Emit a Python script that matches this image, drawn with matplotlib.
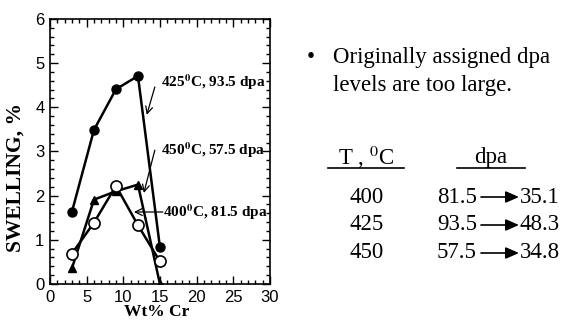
import matplotlib
matplotlib.use("Agg")
import matplotlib.pyplot as plt
from matplotlib.patches import FancyArrowPatch
from matplotlib.ticker import MultipleLocator

plt.rcParams['mathtext.fontset'] = 'stix'

# swelling vs chromium content
cr = [3, 6, 9, 12, 15]
sw_425 = [1.64, 3.49, 4.41, 4.71, 0.83]
sw_400 = [0.69, 1.39, 2.22, 1.33, 0.51]
sw_450 = [0.36, 1.91, 2.10, 2.25, 0.0]

# dpa corrections table
temps = ["400", "425", "450"]
dpa_old = ["81.5", "93.5", "57.5"]
dpa_new = ["35.1", "48.3", "34.8"]

serif = ['Liberation Serif', 'DejaVu Serif']
sans = ['Liberation Sans', 'DejaVu Sans']

fig = plt.figure(figsize=(5.67, 3.32), dpi=100)
ax = fig.add_axes([0.0882, 0.1446, 0.3878, 0.7982])

ax.plot(cr, sw_425, color='k', lw=1.8, marker='o', ms=6.5, mfc='k', mec='k', zorder=3)
ax.plot(cr, sw_450, color='k', lw=1.8, marker='^', ms=6, mfc='k', mec='k', zorder=3)
ax.plot(cr, sw_400, color='k', lw=1.8, marker='o', ms=8, mfc='white', mec='k', mew=1.2, zorder=4)

ax.set_xlim(0, 30)
ax.set_ylim(0, 6)
ax.xaxis.set_major_locator(MultipleLocator(5))
ax.xaxis.set_minor_locator(MultipleLocator(1))
ax.yaxis.set_major_locator(MultipleLocator(1))
ax.yaxis.set_minor_locator(MultipleLocator(0.2))
ax.tick_params(which='both', direction='in', top=True, right=True, width=1)
ax.tick_params(which='major', length=6, labelsize=12, pad=4)
ax.tick_params(which='minor', length=3)
for lab in ax.get_xticklabels() + ax.get_yticklabels():
    lab.set_family(sans)
for s in ax.spines.values():
    s.set_linewidth(1.2)

ax.set_xlabel("Wt% Cr", family=serif, fontweight='bold', fontsize=12.5)
ax.xaxis.set_label_coords(0.486, -0.075)
ax.set_ylabel("SWELLING, %", family=serif, fontweight='bold', fontsize=15.5)
ax.yaxis.set_label_coords(-0.112, 0.40)

# curve labels with pointer arrows
ann = dict(family=serif, fontweight='bold', fontsize=11, va='center', ha='left')
arrow = dict(arrowstyle='->,head_length=0.5,head_width=0.25', color='k', lw=0.9,
             shrinkA=0, shrinkB=0)
ax.text(15.1, 4.57, "425$^{\\mathbf{0}}$C, 93.5 dpa", **ann)
ax.annotate("", xy=(13.2, 3.83), xytext=(14.3, 4.46), arrowprops=arrow)
ax.text(15.1, 3.03, "450$^{\\mathbf{0}}$C, 57.5 dpa", **ann)
ax.annotate("", xy=(12.8, 2.06), xytext=(14.3, 3.03), arrowprops=arrow)
ax.text(15.4, 1.63, "400$^{\\mathbf{0}}$C, 81.5 dpa", **ann)
ax.annotate("", xy=(11.45, 1.63), xytext=(15.4, 1.63), arrowprops=arrow)

# notes on the right
W, H = 567.0, 332.0
def fx(px):
    return px / W
def fy(py):
    return 1 - py / H

fs = 16.5
fig.text(fx(311), fy(57), "\u2022", family=serif, fontsize=fs, ha='center', va='center')
fig.text(fx(333), fy(57), "Originally assigned dpa", family=serif, fontsize=fs, va='center')
fig.text(fx(333), fy(85), "levels are too large.", family=serif, fontsize=fs, va='center')

fig.text(fx(366), fy(157), "T , $^{0}$C", family=serif, fontsize=fs, ha='center', va='center')
fig.text(fx(491), fy(157), "dpa", family=serif, fontsize=fs, ha='center', va='center')
fig.add_artist(plt.Line2D([fx(328), fx(404)], [fy(168), fy(168)], color='k', lw=1.2))
fig.add_artist(plt.Line2D([fx(457), fx(525)], [fy(168), fy(168)], color='k', lw=1.2))

row_y = [197, 225, 253]
for t, d0, d1, y in zip(temps, dpa_old, dpa_new, row_y):
    fig.text(fx(367), fy(y), t, family=serif, fontsize=fs, ha='center', va='center')
    fig.text(fx(437), fy(y), d0, family=serif, fontsize=fs, ha='left', va='center')
    fig.text(fx(520), fy(y), d1, family=serif, fontsize=fs, ha='left', va='center')
    fig.add_artist(FancyArrowPatch(
        (fx(481), fy(y)), (fx(519), fy(y)), transform=fig.transFigure,
        arrowstyle='-|>,head_length=8,head_width=3.5', color='k', lw=1.2,
        shrinkA=0, shrinkB=0))

fig.savefig("out.png", dpi=100)
